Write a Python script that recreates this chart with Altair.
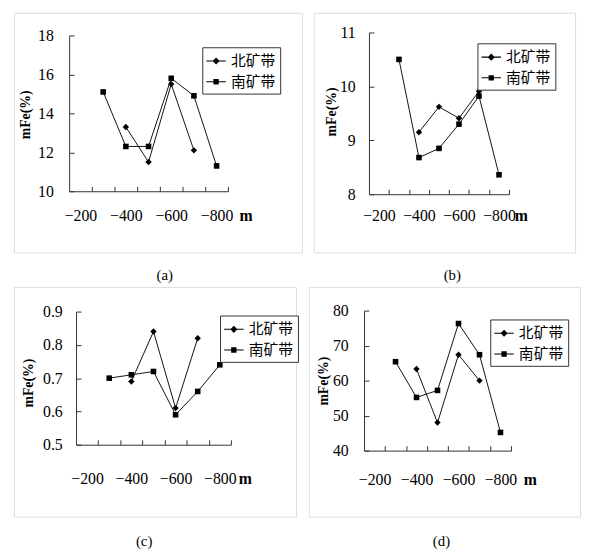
import altair as alt
import pandas as pd

# ---- data ----
SERIES = ["北矿带", "南矿带"]
DEPTH_N = [-400, -500, -600, -700]
DEPTH_S = [-300, -400, -500, -600, -700, -800]

A_N = [13.3, 11.5, 15.5, 12.1]
A_S = [15.1, 12.3, 12.3, 15.8, 14.9, 11.3]

B_N = [9.15, 9.62, 9.41, 9.91]
B_S = [10.5, 8.68, 8.85, 9.30, 9.82, 8.36]

C_N = [0.69, 0.84, 0.61, 0.82]
C_S = [0.70, 0.71, 0.72, 0.59, 0.66, 0.74]

D_N = [63.3, 48.0, 67.4, 60.0]
D_S = [65.4, 55.2, 57.2, 76.3, 67.4, 45.2]

X_TICKS = [-200, -250, -350, -400, -450, -550, -600, -650, -750, -800, -850]
A_YT = [10, 12, 14, 16, 18]
B_YT = [8, 9, 10, 11]
C_YT = [0.5, 0.6, 0.7, 0.8, 0.9]
D_YT = [40, 50, 60, 70, 80]

SERIF = "Liberation Serif"
CJK = "Noto Sans CJK SC"
INK = "#333333"

PATH_N = "M-1.1,-0.06H1.1V0.06H-1.1ZM0,-0.4L0.4,0L0,0.4L-0.4,0Z"
PATH_S = "M-1.1,-0.06H1.1V0.06H-1.1ZM-0.3,-0.3H0.3V0.3H-0.3Z"


def make_df(n_vals, s_vals):
    rows = [{"depth": d, "value": v, "series": SERIES[0]} for d, v in zip(DEPTH_N, n_vals)]
    rows += [{"depth": d, "value": v, "series": SERIES[1]} for d, v in zip(DEPTH_S, s_vals)]
    return pd.DataFrame(rows)


def panel(cap, n_vals, s_vals, ydom, yvals, yfmt, W, H, x0, x1, ytop, ybot,
          dist, mdx, ygap, tx, ty, lx, ly, cdx, coff):
    df = make_df(n_vals, s_vals)
    x = alt.X(
        "depth:Q",
        scale=alt.Scale(domain=[-150, -850], range=[x0, x1], nice=False, zero=False),
        axis=alt.Axis(
            orient="top", offset=-ybot, values=X_TICKS, format="d",
            labelExpr="abs(datum.value) % 100 == 0 ? datum.label : ''",
            tickOpacity={"condition": {"test": "abs(datum.value) % 100 == 0", "value": 0}, "value": 1},
            tickSize=5, tickColor=INK, domainColor=INK, grid=False,
            labelFont=SERIF, labelFontSize=16, labelColor="black",
            labelPadding=-(dist + 5), labelBaseline="middle", labelOverlap=False,
            title="m", titleX=x1 + mdx, titleY=dist, titleAngle=0,
            titleAlign="center", titleBaseline="middle", titleFont=SERIF,
            titleFontSize=16, titleFontWeight="bold", titleColor="black",
        ),
    )
    y = alt.Y(
        "value:Q",
        scale=alt.Scale(domain=ydom, range=[ybot, ytop], nice=False, zero=False),
        axis=alt.Axis(
            orient="right", offset=x0 - W, values=yvals, format=yfmt,
            tickSize=5, tickColor=INK, domainColor=INK, grid=False,
            labelFont=SERIF, labelFontSize=16, labelColor="black",
            labelAlign="right", labelBaseline="middle", labelPadding=-(ygap + 5),
            labelOverlap=False,
            title="mFe(%)", titleX=tx, titleY=ty, titleAngle=270,
            titleAlign="center", titleBaseline="middle", titleFont=SERIF,
            titleFontSize=14, titleFontWeight="bold", titleColor="black",
        ),
    )
    base = alt.Chart(df)
    lines = base.mark_line(color="#111111", strokeWidth=1).encode(x=x, y=y, detail="series:N")
    pts_n = base.transform_filter(alt.datum.series == SERIES[0]).mark_point(
        shape="diamond", filled=True, size=42, color="black", opacity=1
    ).encode(x=x, y=y)
    pts_s = base.transform_filter(alt.datum.series == SERIES[1]).mark_point(
        shape="square", filled=True, size=32, color="black", opacity=1
    ).encode(x=x, y=y)
    leg = base.transform_filter("false").mark_point(
        filled=True, size=324, color="black", opacity=1
    ).encode(
        x=x, y=y,
        shape=alt.Shape(
            "series:N",
            scale=alt.Scale(domain=SERIES, range=[PATH_N, PATH_S]),
            legend=alt.Legend(
                orient="none", legendX=lx, legendY=ly, title=None,
                strokeColor=INK, fillColor="white", padding=4, cornerRadius=0,
                labelFont=CJK, labelFontSize=15, labelColor="black", labelOffset=5,
                rowPadding=3, symbolSize=324, symbolFillColor="black", symbolOpacity=1,
            ),
        ),
    )
    return alt.layer(lines, pts_n, pts_s, leg).properties(
        width=W, height=H,
        title=alt.TitleParams(
            text=cap, orient="bottom", anchor="middle", offset=coff, dx=cdx,
            font=SERIF, fontSize=15, fontWeight="normal", color="black",
        ),
    )


pa = panel("(a)", A_N, A_S, [10, 18], A_YT, "d", 292, 243, 56, 217, 23, 181,
           25, 18, 16, -44, 103, 191, 35, 7, 16)
pb = panel("(b)", B_N, B_S, [8, 11], B_YT, "d", 265, 243, 56, 198, 20, 184,
           22, 12, 14, -38, 100, 166, 31, 8, 16)
pc = panel("(c)", C_N, C_S, [0.5, 0.9], C_YT, ".1f", 286, 233, 63, 220, 25, 160,
           34, 14, 14, -48, 97, 209, 29, -11, 18)
pd_ = panel("(d)", D_N, D_S, [40, 80], D_YT, "d", 275, 233, 56, 205, 24, 166,
            29, 19, 16, -41, 95, 184, 33, -3, 18)

row1 = alt.hconcat(pa, pb, spacing=10).resolve_scale(
    x="independent", y="independent", shape="independent").resolve_legend(shape="independent")
row2 = alt.hconcat(pc, pd_, spacing=9).resolve_scale(
    x="independent", y="independent", shape="independent").resolve_legend(shape="independent")

chart = alt.vconcat(row1, row2, spacing=2).resolve_scale(
    x="independent", y="independent", shape="independent").resolve_legend(
    shape="independent").configure_view(stroke=INK, strokeWidth=1).configure(
    padding={"left": 5, "top": 0, "right": 0, "bottom": 0}, background="white")

chart.save("out.html", embed_options={"renderer": "svg", "actions": False})
